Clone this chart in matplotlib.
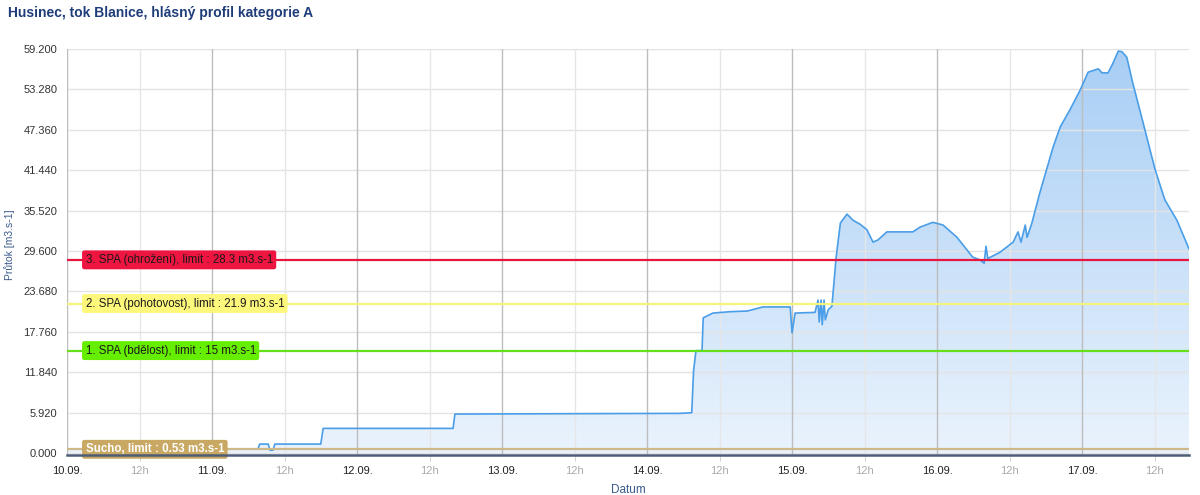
import matplotlib
matplotlib.use("Agg")
import matplotlib.pyplot as plt
import numpy as np
from matplotlib.colors import LinearSegmentedColormap

plt.rcParams["font.family"] = ["Liberation Sans", "DejaVu Sans"]

# flow series: hours since 10.09. 00:00 and discharge [m3.s-1]
hours = [0.0, 31.6, 31.9, 33.3, 33.6, 34.1, 34.4, 42.0, 42.4, 63.9, 64.2,
         101.5, 103.4, 103.7, 104.1, 105.1, 105.3, 106.9, 109.7, 112.6, 115.2,
         119.7, 120.0, 120.5, 123.8, 124.3, 124.5, 124.8, 125.0, 125.3, 125.5,
         126.0, 126.6, 127.3, 128.0, 129.1, 130.1, 131.3, 132.4, 133.4, 134.2,
         135.7, 140.0, 141.2, 143.3, 145.0, 147.3, 149.0, 149.9, 151.1, 151.8,
         152.1, 152.4, 154.4, 156.6, 157.4, 157.9, 158.6, 158.9, 159.7, 161.0,
         163.2, 164.4, 166.0, 167.7, 169.0, 170.7, 171.3, 172.3, 173.0, 174.0,
         174.6, 175.4, 176.4, 178.1, 180.1, 181.7, 183.7, 185.7]
flow = [0.6, 0.6, 1.3, 1.3, 0.4, 0.4, 1.3, 1.3, 3.6, 3.6, 5.7,
        5.8, 5.9, 12.0, 15.0, 15.0, 19.8, 20.5, 20.7, 20.8, 21.4,
        21.4, 17.6, 20.5, 20.6, 22.4, 19.2, 22.4, 18.8, 22.4, 19.5,
        21.0, 21.5, 28.7, 33.7, 35.0, 34.1, 33.5, 32.7, 30.9, 31.2,
        32.4, 32.4, 33.1, 33.8, 33.4, 31.6, 29.7, 28.7, 28.3, 27.8,
        30.3, 28.5, 29.4, 30.9, 32.4, 30.9, 33.4, 31.6, 33.7, 38.1,
        44.8, 47.8, 50.3, 53.2, 55.8, 56.3, 55.7, 55.7, 56.9, 58.9,
        58.8, 58.0, 54.2, 48.4, 41.5, 37.1, 34.1, 29.9]

limit_names = ["Sucho, limit : 0.53 m3.s-1",
               "1. SPA (bdělost), limit : 15 m3.s-1",
               "2. SPA (pohotovost), limit : 21.9 m3.s-1",
               "3. SPA (ohrožení), limit : 28.3 m3.s-1"]
limit_values = [0.53, 15.0, 21.9, 28.3]
limit_line_colors = ["#cdb889", "#66e01a", "#f4f37a", "#e5173f"]
limit_box_colors = ["#c8a862", "#66ee00", "#fdf77c", "#ee1540"]
limit_text_colors = ["white", "#1a1a1a", "#1a1a1a", "#1a1a1a"]

day_labels = ["10.09.", "11.09.", "12.09.", "13.09.", "14.09.", "15.09.",
              "16.09.", "17.09."]
y_ticks = [0.0, 5.92, 11.84, 17.76, 23.68, 29.6, 35.52, 41.44, 47.36, 53.28, 59.2]

x_max = hours[-1]
y_min, y_max = -0.3, 59.2

fig = plt.figure(figsize=(12, 4.95), dpi=100)
ax = fig.add_axes([67 / 1200, 1 - 455 / 495, 1122 / 1200, 406 / 495])
ax.set_xlim(0, x_max)
ax.set_ylim(y_min, y_max)

# gradient area under the series
poly = ax.fill_between(hours, flow, 0, color="none", lw=0)
cmap = LinearSegmentedColormap.from_list("area", ["#eaf3fd", "#a8cef5"])
grad = np.linspace(0, 1, 256).reshape(-1, 1)
im = ax.imshow(grad, cmap=cmap, aspect="auto", origin="lower",
               extent=[0, x_max, 0, y_max], zorder=1)
paths = poly.get_paths()
if paths:
    im.set_clip_path(paths[0], transform=ax.transData)

# grid
for yt in y_ticks:
    ax.axhline(yt, color="#e3e3e3", lw=1, zorder=2)
for i in range(len(day_labels)):
    ax.axvline(i * 24, color="#bdbdbd", lw=1, zorder=2)
    ax.axvline(i * 24 + 12, color="#e6e6e6", lw=1, zorder=2)

ax.plot(hours, flow, color="#4a9ee8", lw=1.2, zorder=3)

for name, val, lc, bc, tc in zip(limit_names, limit_values, limit_line_colors,
                                 limit_box_colors, limit_text_colors):
    ax.axhline(val, color=lc, lw=1.6, zorder=4)
    ax.text(0.0165, val, name, transform=ax.get_yaxis_transform(),
            fontsize=8.3, color=tc, va="center", ha="left", zorder=5,
            fontweight="bold" if tc == "white" else "normal",
            bbox=dict(boxstyle="round,pad=0.3,rounding_size=0.2", fc=bc, ec="none"))

for side in ["top", "right", "left"]:
    ax.spines[side].set_visible(False)
ax.spines["bottom"].set_color("#4d5d78")
ax.spines["bottom"].set_linewidth(1.8)
ax.spines["bottom"].set_zorder(6)

ax.set_yticks(y_ticks, [f"{v:.3f}" for v in y_ticks])
ax.tick_params(axis="y", length=0, labelsize=8, labelcolor="#333333", pad=7)

ax.set_xticks([i * 24 for i in range(len(day_labels))], day_labels)
ax.set_xticks([i * 24 + 12 for i in range(len(day_labels))], minor=True)
ax.set_xticklabels(["12h"] * len(day_labels), minor=True)
ax.tick_params(axis="x", which="major", length=0, labelsize=8,
               labelcolor="#222222", pad=8)
ax.tick_params(axis="x", which="minor", length=4, color="#cccccc",
               labelsize=8, labelcolor="#aaaaaa", pad=4)

fig.text(8 / 1200, 1 - 13 / 495, "Husinec, tok Blanice, hlásný profil kategorie A",
         fontsize=10, fontweight="bold", color="#1f3d7a", va="center")
fig.text(10 / 1200, 1 - 245 / 495, "Průtok [m3.s-1]", rotation=90,
         fontsize=7.5, color="#3a5a8c", va="center", ha="center")
fig.text(628 / 1200, 1 - 490 / 495, "Datum", fontsize=8.5, color="#3a5a8c",
         va="center", ha="center")

fig.savefig("out.png", dpi=100)
